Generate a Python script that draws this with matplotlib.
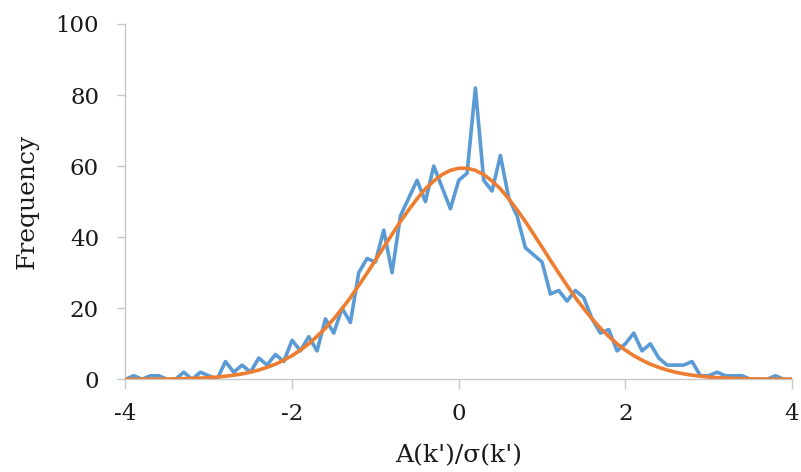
import matplotlib
matplotlib.use("Agg")

import numpy as np
import matplotlib.pyplot as plt

# bin positions A(k')/sigma(k'), step 0.1
x_bins = np.round(np.arange(-40, 41) / 10.0, 1)

# observed frequency (blue)
freq = [0, 1, 0, 1, 1, 0, 0, 2, 0, 2, 1,
        0, 5, 2, 4, 2, 6, 4, 7, 5, 11,
        8, 12, 8, 17, 13, 20, 16, 30, 34, 33,
        42, 30, 46, 51, 56, 50, 60, 54, 48, 56,
        58, 82, 56, 53, 63, 51, 46, 37, 35, 33,
        24, 25, 22, 25, 23, 17, 13, 14, 8, 10,
        13, 8, 10, 6, 4, 4, 4, 5, 1, 1,
        2, 1, 1, 1, 0, 0, 0, 1, 0, 0]

# fitted curve (orange)
fit = [0.01, 0.02, 0.03, 0.04, 0.06, 0.08, 0.12, 0.17, 0.24, 0.34, 0.47,
       0.64, 0.87, 1.16, 1.53, 2.00, 2.61, 3.36, 4.26, 5.37, 6.67,
       8.22, 10.0, 12.1, 14.4, 17.0, 19.9, 23.0, 26.4, 29.9, 33.5,
       37.2, 40.8, 44.4, 47.7, 50.8, 53.6, 55.8, 57.6, 58.8, 59.4,
       59.4, 58.8, 57.6, 55.8, 53.6, 50.8, 47.7, 44.4, 40.8, 37.2,
       33.5, 29.9, 26.4, 23.0, 19.9, 17.0, 14.4, 12.1, 10.0, 8.22,
       6.67, 5.37, 4.26, 3.36, 2.61, 2.00, 1.53, 1.16, 0.87, 0.64,
       0.47, 0.34, 0.24, 0.17, 0.12, 0.08, 0.06, 0.04, 0.03, 0.02]

x_ticks = [-4, -2, 0, 2, 4]
y_ticks = [0, 20, 40, 60, 80, 100]

plt.rcParams["font.family"] = "DejaVu Serif"

fig = plt.figure(figsize=(8.01, 4.72), dpi=100)
ax = fig.add_axes([0.1566, 0.1964, 0.8322, 0.7528])

ax.plot(x_bins, freq, color="#5B9BD5", linewidth=2.6, solid_joinstyle="round", zorder=2)
ax.plot(x_bins, fit, color="#ED7D31", linewidth=2.6, zorder=3)

ax.set_xlim(-4, 4)
ax.set_ylim(0, 100)
ax.set_xticks(x_ticks)
ax.set_yticks(y_ticks)
ax.set_xticklabels([str(v) for v in x_ticks])

for side in ["top", "right"]:
    ax.spines[side].set_visible(False)
for side in ["left", "bottom"]:
    ax.spines[side].set_color("#C8C8C8")
    ax.spines[side].set_linewidth(1.0)

ax.tick_params(axis="x", direction="out", length=7, width=1, color="#C8C8C8",
               labelsize=16.5, pad=10, labelcolor="#1a1a1a")
ax.tick_params(axis="y", direction="out", length=6, width=1, color="#C8C8C8",
               labelsize=16.5, pad=13, labelcolor="#1a1a1a")

ax.set_xlabel("A(k')/σ(k')", fontsize=18, labelpad=14, color="#1a1a1a")
ax.set_ylabel("Frequency", fontsize=18, labelpad=12, color="#1a1a1a")

fig.savefig("out.png", dpi=100)
